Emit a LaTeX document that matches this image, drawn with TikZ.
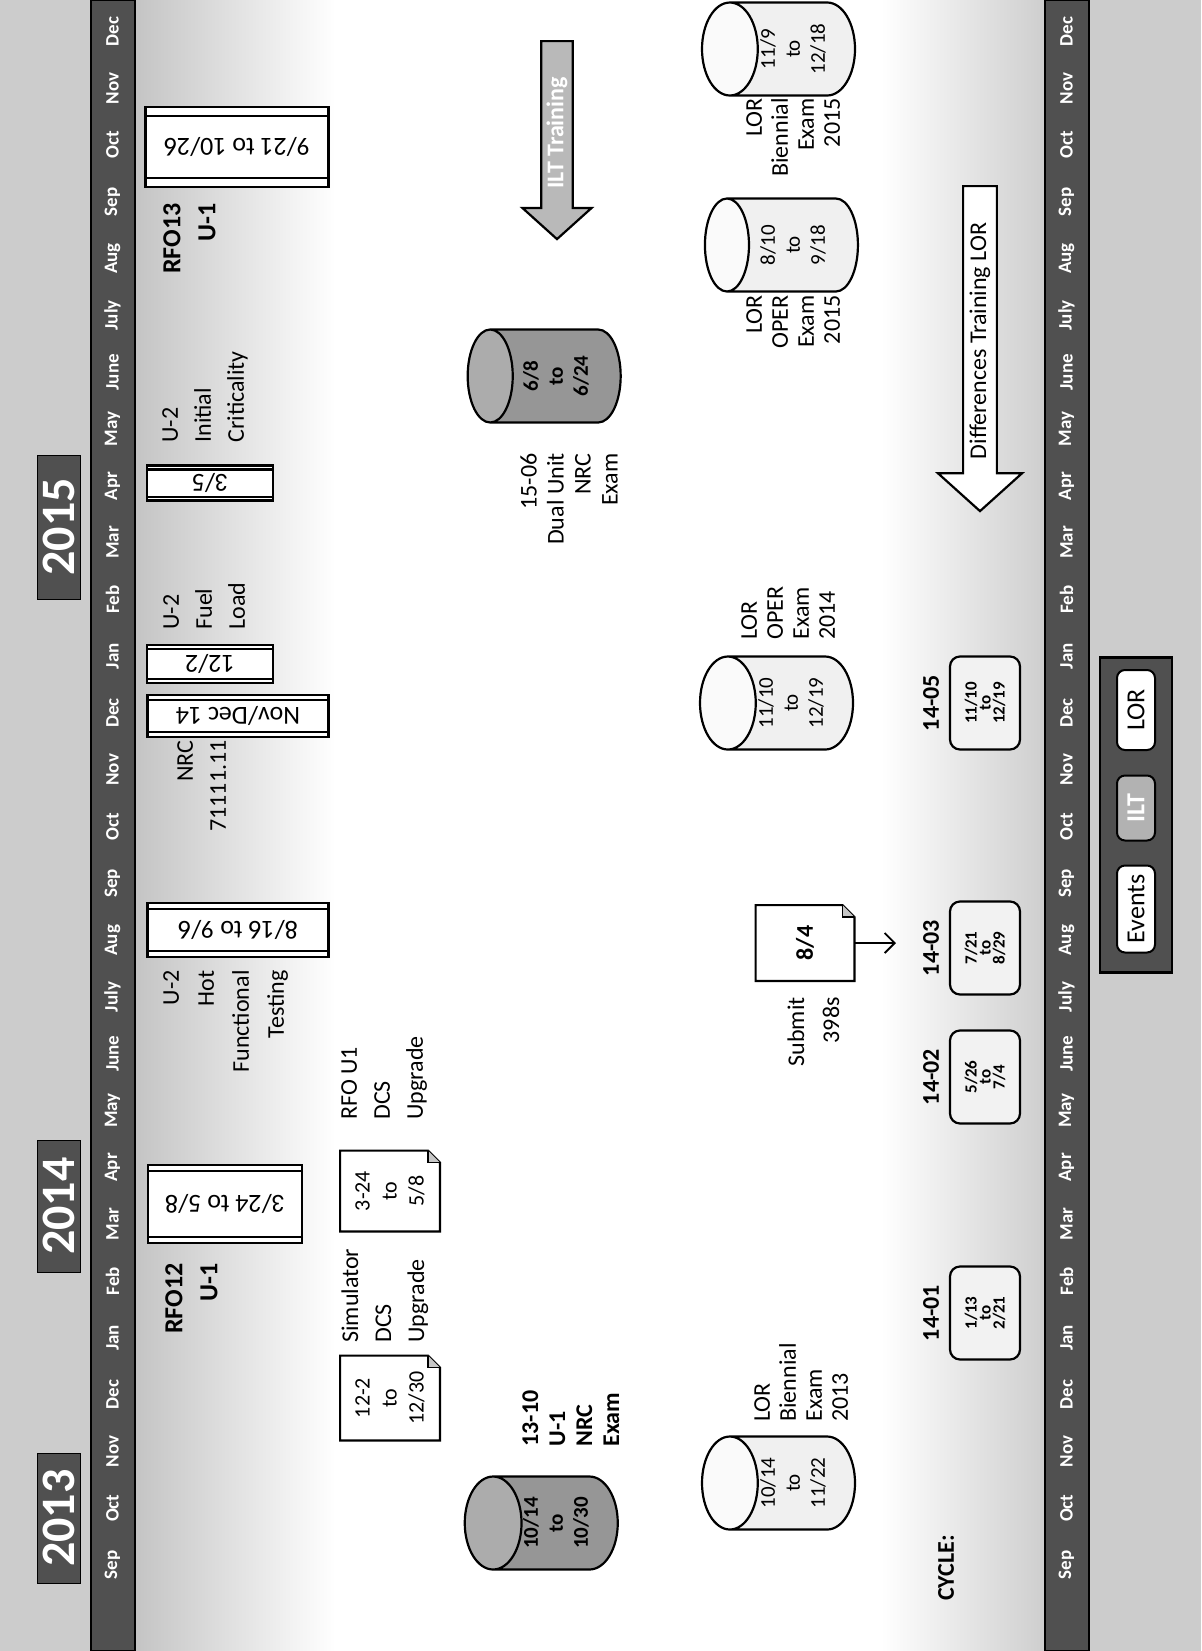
\documentclass[tikz,border=0pt]{standalone}
\usepackage{fontspec}
\setmainfont{Carlito}
\usetikzlibrary{shapes.geometric,shapes.arrows,calc,arrows.meta}
\definecolor{bardark}{RGB}{80,80,80}
\definecolor{paper}{RGB}{204,204,204}
\definecolor{drumgray}{RGB}{150,150,150}
\definecolor{drumtop}{RGB}{172,172,172}
\definecolor{fadelow}{RGB}{196,196,196}
\definecolor{fadehigh}{RGB}{206,206,206}
\pgfdeclarehorizontalshading{paperfade}{100bp}{color(0bp)=(fadelow); color(25bp)=(fadelow); color(36bp)=(white);
  color(66bp)=(white); color(75bp)=(fadehigh); color(100bp)=(fadehigh)}

\begin{document}
\begin{tikzpicture}[x=0.5pt, y=0.5pt, >={Straight Barb[length=5pt,width=10pt]},
    monthbar/.style={draw, line width=1pt, fill=bardark, minimum width=825.5pt, minimum height=22pt, inner sep=0pt},
    monthlbl/.style={text=white, font=\fontsize{9.5}{10}\selectfont\bfseries, inner sep=0pt},
    yearbox/.style={draw, fill=bardark, text=white, font=\fontsize{24}{26}\selectfont\bfseries, minimum height=21.5pt, inner sep=0pt},
    lbl/.style={font=\fontsize{12}{16.5}\selectfont, inner sep=0pt},
    lblb/.style={font=\fontsize{13}{17.5}\selectfont\bfseries, inner sep=0pt},
    tightlbl/.style={font=\fontsize{12}{13}\selectfont, inner sep=0pt},
    predef/.style={draw, line width=1.1pt, fill=white, rotate=90, font=\fontsize{13}{15}\selectfont, inner sep=0pt},
    docbox/.style={inner sep=0pt, minimum width=40pt, minimum height=49.5pt, align=center, font=\fontsize{11}{13.5}\selectfont},
    drum/.style={cylinder, shape border rotate=90, draw, line width=1.1pt, aspect=1.1, minimum width=46.5pt, minimum height=76.5pt,
      cylinder uses custom fill, cylinder body fill=gray!12, cylinder end fill=gray!4, inner sep=0pt, align=center,
      font=\fontsize{10.5}{12.5}\selectfont},
    graydrum/.style={drum, cylinder body fill=drumgray, cylinder end fill=drumtop, font=\fontsize{10.5}{12.5}\selectfont\bfseries},
    cyclebox/.style={draw, line width=1.1pt, rounded corners=5pt, fill=gray!10, minimum width=46.5pt, minimum height=35pt,
      inner sep=0pt, align=center, font=\fontsize{8.5}{7}\selectfont\bfseries},
    cyclelbl/.style={font=\fontsize{12}{14}\selectfont\bfseries, inner sep=0pt},
    bigarrow/.style={single arrow, draw, line width=1.1pt, shape border rotate=180, single arrow tip angle=96, inner sep=1pt, anchor=tail},
    keybox/.style={draw, line width=1pt, rounded corners=4pt, fill=white, minimum height=19pt, inner sep=0pt, font=\fontsize{13}{15}\selectfont}]

\begin{scope}[shift={(1201,-1651)}, rotate=90, every node/.append style={transform shape}]
  \useasboundingbox (0,0) rectangle (1651,1201);

  % paper
  \fill[paper] (0,0) rectangle (1651,1201);
  \shade[shading=paperfade] (0,156) rectangle (1651,1066);

  % month bars
  \node[monthbar] (topbar) at (825.5,1088.5) {};
  \node[monthbar] (botbar) at (825.5,134.5) {};
  \foreach \m [count=\i from 0] in {Sep,Oct,Nov,Dec,Jan,Feb,Mar,Apr,May,June,July,Aug,Sep,Oct,Nov,Dec,Jan,Feb,Mar,Apr,May,June,July,Aug,Sep,Oct,Nov,Dec} {
    \node[monthlbl] (top\i) at (86+56.8*\i,1088.5) {\m};
    \node[monthlbl] (bot\i) at (86+56.8*\i,134.5) {\m};
  }

  % years
  \node[yearbox, minimum width=65pt] (y2013) at (133,1142) {2013};
  \node[yearbox, minimum width=66pt] (y2014) at (445,1142) {2014};
  \node[yearbox, minimum width=72pt] (y2015) at (1124,1142) {2015};

  % events
  \node[predef, minimum width=77pt, minimum height=39pt] (rfo12) at (447,976) {3/24 to 5/8};
  \node[predef, minimum width=90.5pt, minimum height=27pt] (hft) at (721,963) {8/16 to 9/6};
  \node[predef, minimum width=90.5pt, minimum height=21pt] (insp) at (935,963) {Nov/Dec 14};
  \node[predef, minimum width=63pt, minimum height=19pt] (fuel) at (987,991) {12/2};
  \node[predef, minimum width=63pt, minimum height=17.5pt] (crit) at (1168,991) {3/5};
  \node[predef, minimum width=91.5pt, minimum height=40pt] (rfo13) at (1504,964) {9/21 to 10/26};
  \foreach \n/\d in {rfo12/3.5pt, hft/3.5pt, insp/3pt, fuel/2.5pt, crit/2.5pt, rfo13/5pt} {
    \draw[line width=1.1pt] ($(\n.north west)!\d!(\n.south west)$) -- ($(\n.north east)!\d!(\n.south east)$);
    \draw[line width=1.1pt] ($(\n.south west)!\d!(\n.north west)$) -- ($(\n.south east)!\d!(\n.north east)$);
  }

  \node[lblb, anchor=north east, align=right] (rfo12lbl) at (388,1036) {RFO12\\U-1};
  \node[lblb, anchor=north east, align=right] (rfo13lbl) at (1448,1038) {RFO13\\U-1};
  \node[lbl, anchor=north east, align=right, font=\fontsize{12}{17.5}\selectfont] (hftlbl) at (681,1038) {U-2\\Hot\\Functional\\Testing};
  \node[lbl, anchor=north east, align=right] (insplbl) at (911,1024) {NRC\\71111.11};
  \node[lbl, anchor=north west, align=left] (fuellbl) at (1021,1038) {U-2\\Fuel\\Load};
  \node[lbl, anchor=north west, align=left] (critlbl) at (1208,1039) {U-2\\Initial\\Criticality};

  % simulator work
  \node[docbox, minimum width=42pt] (sim) at (253,811) {12-2\\to\\12/30};
  \node[docbox] (dcs) at (460,811) {3-24\\to\\5/8};
  \node[docbox, minimum width=37.5pt, minimum height=49pt, font=\fontsize{12}{14}\selectfont\bfseries] (sub) at (708,396) {8/4};
  \foreach \n in {sim,dcs,sub} {
    \draw[line width=1.1pt] ($(\n.south east)!6pt!(\n.north east)$) -- (\n.north east) -- (\n.north west) -- (\n.south west)
      -- ($(\n.south east)!6pt!(\n.south west)$) -- cycle;
    \draw[line width=0.8pt, fill=gray!45] ($(\n.south east)!6pt!(\n.north east)$)
      -- ($(\n.south east)!6pt!(\n.north east) + (\n.south east)!6pt!(\n.south west) - (\n.south east)$)
      -- ($(\n.south east)!6pt!(\n.south west)$);
  }
  \node[lbl, anchor=north west, align=left] (simlbl) at (308,860) {Simulator\\DCS\\Upgrade};
  \node[lbl, anchor=north west, align=left] (dcslbl) at (531,860) {RFO U1\\DCS\\Upgrade};
  \node[lbl, anchor=north east, align=right, font=\fontsize{12}{17.5}\selectfont] (sublbl) at (654,414) {Submit\\398s};
  \coordinate (subend) at (708,305);
  \draw[->, line width=0.9pt] (sub) -- (subend);

  % NRC exams
  \node[graydrum] (nrc13) at (128,645) {10/14\\to\\10/30};
  \node[graydrum] (nrc15) at (1275,645) {6/8\\to\\6/24};
  \node[tightlbl, font=\fontsize{12}{13.5}\selectfont\bfseries, anchor=north west, align=left] (nrc13lbl) at (204,679) {13-10\\U-1\\NRC\\Exam};
  \node[tightlbl, font=\fontsize{12}{13.5}\selectfont, anchor=north east, align=right] (nrc15lbl) at (1198,681) {15-06\\Dual Unit\\NRC\\Exam};

  % LOR exams
  \node[drum] (bien13) at (168,408) {10/14\\to\\11/22};
  \node[drum] (oper14) at (948,410) {11/10\\to\\12/19};
  \node[drum] (oper15) at (1406,408) {8/10\\to\\9/18};
  \node[drum] (bien15) at (1602,408) {11/9\\to\\12/18};
  \node[tightlbl, anchor=north west, align=left] (bien13lbl) at (229,447) {LOR\\Biennial\\Exam\\2013};
  \node[tightlbl, anchor=north west, align=left] (oper14lbl) at (1011,460) {LOR\\OPER\\Exam\\2014};
  \node[tightlbl, anchor=north east, align=right] (oper15lbl) at (1356,455) {LOR\\OPER\\Exam\\2015};
  \node[tightlbl, anchor=north east, align=right] (bien15lbl) at (1553,455) {LOR\\Biennial\\Exam\\2015};

  % training arrows
  \node[bigarrow, fill=gray!55, text=white, font=\fontsize{12}{14}\selectfont\bfseries, minimum height=99pt, minimum width=34.5pt,
    single arrow head extend=8pt] (ilt) at (1611,644) {ILT Training};
  \node[bigarrow, fill=white, font=\fontsize{12}{14}\selectfont, minimum height=162.5pt, minimum width=42pt,
    single arrow head extend=10pt] (diff) at (1466,221) {Differences Training LOR};

  % cycles
  \node[cyclelbl] (cyc) at (83,255) {CYCLE:};
  \node[cyclebox] (c1401) at (338,216) {1/13\\to\\2/21};
  \node[cyclebox] (c1402) at (574,216) {5/26\\to\\7/4};
  \node[cyclebox] (c1403) at (703,216) {7/21\\to\\8/29};
  \node[cyclebox] (c1405) at (948,216) {11/10\\to\\12/19};
  \node[cyclelbl] (l1401) at (338,270) {14-01};
  \node[cyclelbl] (l1402) at (574,270) {14-02};
  \node[cyclelbl] (l1403) at (703,270) {14-03};
  \node[cyclelbl] (l1405) at (948,270) {14-05};

  % legend
  \node[draw, line width=1.2pt, fill=bardark, minimum width=157.5pt, minimum height=36pt] (legend) at (836,65) {};
  \node[keybox, minimum width=43.5pt] (kevents) at (742,65) {Events};
  \node[keybox, minimum width=32.5pt, fill=gray!60, text=white, font=\fontsize{13}{15}\selectfont\bfseries] (kilt) at (843,65) {ILT};
  \node[keybox, minimum width=40pt] (klor) at (941,65) {LOR};
\end{scope}
\end{tikzpicture}
\end{document}
